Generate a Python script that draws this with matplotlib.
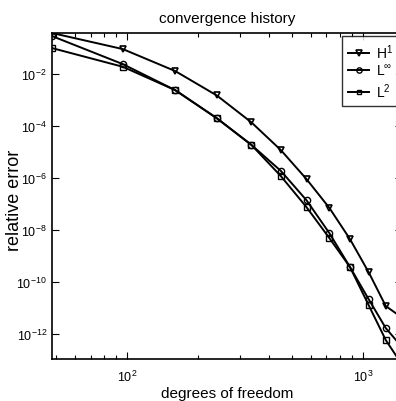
import matplotlib
matplotlib.use("Agg")
import matplotlib.pyplot as plt

plt.rcParams['font.family'] = ['Liberation Sans', 'DejaVu Sans']
plt.rcParams['mathtext.default'] = 'regular'

# degrees of freedom for each refinement level
dofs = [48, 96, 160, 240, 336, 448, 576, 720, 880, 1056, 1248, 1456]

# relative errors in the three norms
err_h1 = [3.8e-1, 9.1e-2, 1.3e-2, 1.5e-3, 1.4e-4, 1.2e-5, 9.1e-7, 7.1e-8,
          4.5e-9, 2.4e-10, 1.2e-11, 4.4e-12]
err_linf = [2.9e-1, 2.4e-2, 2.4e-3, 2.0e-4, 1.9e-5, 1.9e-6, 1.4e-7, 7.6e-9,
            3.8e-10, 2.2e-11, 1.7e-12, 3.3e-13]
err_l2 = [1.0e-1, 1.9e-2, 2.4e-3, 2.0e-4, 1.9e-5, 1.2e-6, 7.6e-8, 4.9e-9,
          3.8e-10, 1.3e-11, 5.9e-13, 7.1e-14]

fig = plt.figure(figsize=(3.96, 4.02), dpi=100)
ax = fig.add_axes([0.131, 0.1045, 0.883, 0.811])

ax.loglog(dofs, err_h1, '-v', color='k', lw=1.4, ms=5, mfc='none', mew=1.2, label='$H^1$')
ax.loglog(dofs, err_linf, '-o', color='k', lw=1.4, ms=4.5, mfc='none', mew=1.0, label=r'$L^{\infty}$')
ax.loglog(dofs, err_l2, '-s', color='k', lw=1.4, ms=4, mfc='none', mew=1.0, label='$L^2$')

ax.set_xlim(48, 1456)
ax.set_ylim(1.1e-13, 3.8e-1)
ax.set_yticks([1e-2, 1e-4, 1e-6, 1e-8, 1e-10, 1e-12])
ax.yaxis.set_minor_locator(matplotlib.ticker.NullLocator())

ax.tick_params(which='both', direction='in', top=True, right=True, labelsize=9)
ax.tick_params(which='major', length=5, width=0.8)
ax.tick_params(which='minor', length=3, width=0.8)
ax.tick_params(axis='x', which='major', pad=7)
for sp in ax.spines.values():
    sp.set_linewidth(1.2)

ax.set_title('convergence history', fontsize=11, pad=8)
ax.set_xlabel('degrees of freedom', fontsize=11)
ax.set_ylabel('relative error', fontsize=13)
ax.xaxis.set_label_coords(0.5, -0.083)
ax.yaxis.set_label_coords(-0.084, 0.49)

leg = ax.legend(loc='upper left', bbox_to_anchor=(342 / 396, 1 - 37 / 402),
                bbox_transform=fig.transFigure, fontsize=10, frameon=True,
                fancybox=False, handlelength=1.5, handletextpad=0.5,
                borderpad=0.45, labelspacing=0.2, borderaxespad=0,
                markerscale=0.85)
leg.get_frame().set_edgecolor('k')
leg.get_frame().set_linewidth(1.0)

fig.savefig('out.png', dpi=100)
